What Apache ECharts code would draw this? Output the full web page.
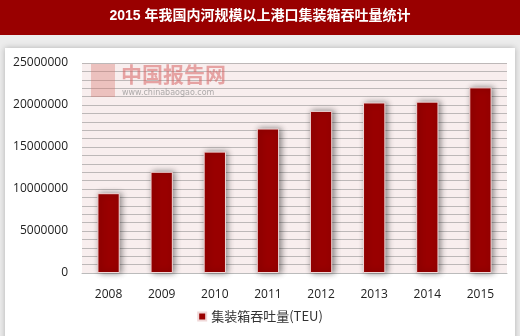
<!DOCTYPE html>
<html><head><meta charset="utf-8">
<script src="https://cdn.jsdelivr.net/npm/echarts@6/dist/echarts.min.js"></script>
<style>html,body{margin:0;padding:0;background:#fff}#c{width:520px;height:336px}</style>
</head><body><div id="c"></div>
<script>
var categories = ['2008','2009','2010','2011','2012','2013','2014','2015'];
var throughput = [9500000, 12050000, 14450000, 17200000, 19300000, 20300000, 20400000, 22100000];
var yTicks = [0, 5000000, 10000000, 15000000, 20000000, 25000000];
var seriesName = '集装箱吞吐量(TEU)';
var titleText = '2015 年我国内河规模以上港口集装箱吞吐量统计';

var chart = echarts.init(document.getElementById('c'));
chart.setOption({
  animation: false,
  backgroundColor: '#ececec',
  graphic: [
    {type:'rect', shape:{x:0,y:0,width:520,height:35}, style:{fill:'#990000'}, z:-10},
    {type:'rect', shape:{x:5,y:48,width:510,height:300}, style:{fill:'#ffffff', shadowBlur:6, shadowColor:'rgba(0,0,0,0.25)'}, z:-10},
    {type:'text', left:'center', top:9, style:{text:titleText, fill:'#ffffff', font:'bold 14px "Liberation Sans", "Noto Sans CJK SC", sans-serif'}, z:10},
    {type:'rect', shape:{x:91,y:64,width:24,height:33}, style:{fill:'rgba(215,110,100,0.35)'}, z:5},
    {type:'text', left:121, top:64, style:{text:'中国报告网', fill:'rgba(215,100,100,0.55)', font:'bold 21px "Noto Sans CJK SC", sans-serif'}, z:5},
    {type:'text', left:122, top:89, style:{text:'www.chinabaogao.com', fill:'rgba(140,140,140,0.7)', font:'8px "DejaVu Sans", sans-serif'}, z:5}
  ],
  grid: {left:82, right:13, top:63, bottom:63, containLabel:false, show:true, backgroundColor:'#f8eeee', borderWidth:0},
  legend: {
    data:[seriesName], bottom:8, left:'center', itemWidth:8, itemHeight:8, icon:'rect', itemGap:4,
    textStyle:{color:'#333', fontSize:13, fontFamily:'"Noto Sans CJK SC", "Open Sans", sans-serif'}
  },
  xAxis: {
    type:'category', data:categories,
    axisLine:{show:true, lineStyle:{color:'#bbbbbb', width:1}},
    axisTick:{show:false},
    axisLabel:{color:'#222', fontSize:12, margin:16, fontFamily:'"Open Sans", sans-serif'}
  },
  yAxis: {
    type:'value', min:yTicks[0], max:yTicks[yTicks.length-1], interval:5000000,
    axisLine:{show:false}, axisTick:{show:false},
    axisLabel:{color:'#222', fontSize:12, margin:14, fontFamily:'"Open Sans", sans-serif', formatter:function(v){return String(v);}},
    splitLine:{show:true, lineStyle:{color:'#bdb8b8', width:1}},
    minorTick:{show:false, splitNumber:5},
    minorSplitLine:{show:true, lineStyle:{color:'#bdb8b8', width:1}}
  },
  series: [{
    name: seriesName, type:'bar', data: throughput, barWidth:'42%',
    itemStyle:{color:'#990000', borderColor:'#f0d8d8', borderWidth:1, shadowBlur:6, shadowColor:'rgba(0,0,0,0.45)', shadowOffsetX:2}
  }]
});
</script></body></html>
